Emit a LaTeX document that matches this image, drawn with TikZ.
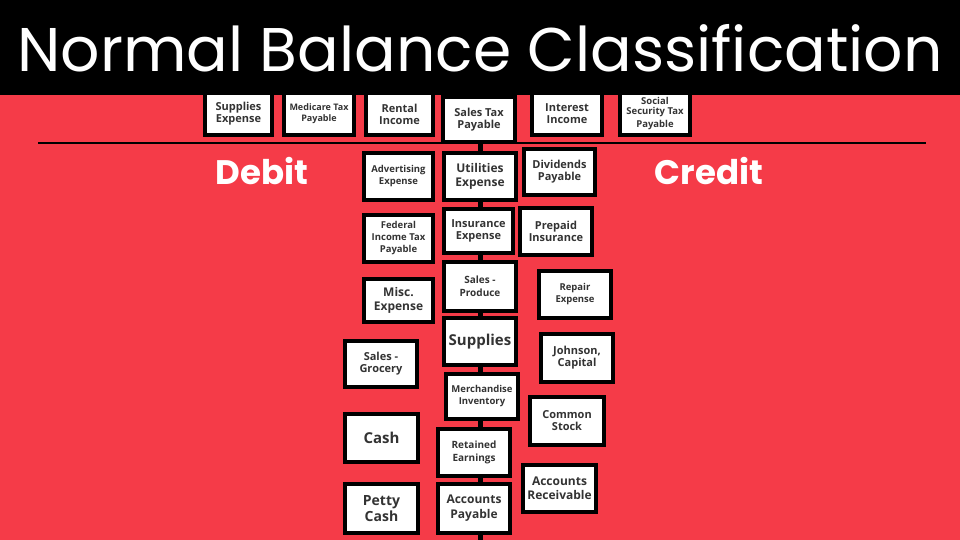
\documentclass[tikz,border=0pt]{standalone}
\usepackage{fontspec}
\usepackage{graphicx}
\setmainfont{Open Sans}
\newfontfamily\titlefont{Poppins}
\definecolor{bgred}{HTML}{F53B48}
\begin{document}
\begin{tikzpicture}[x=1pt,y=-1pt,
  acct/.style={draw=black,line width=3.5pt,fill=white,font=\bfseries\fontsize{11}{12}\selectfont,align=center,inner sep=0pt,text=black!80},
  spine/.style={line width=5pt,black}]
\useasboundingbox (0,0) rectangle (960,540);
\fill[bgred] (0,0) rectangle (960,540);
\fill[black] (0,0) rectangle (960,95);
\node[text=white,font=\titlefont] (title) at (480,48) {\resizebox{925pt}{!}{Normal Balance Classification}};
\coordinate (hl) at (38,143); \coordinate (hr) at (926,143);
\draw[line width=2pt] (hl) -- (hr);
\node[text=white,font=\titlefont\bfseries\fontsize{34}{36}\selectfont] (deb) at (262,171) {Debit};
\node[text=white,font=\titlefont\bfseries\fontsize{34}{36}\selectfont] (cred) at (709,171) {Credit};
\coordinate (stop) at (480,142); \coordinate (sbot) at (480,540);
\draw[spine] (stop) -- (sbot);
\newcommand{\acc}[6][]{\node[acct,minimum width={#4-#2},minimum height={#5-#3},#1] (n#2#3) at ({(#2+#4)/2},{(#3+#5)/2}) {#6};}
\acc{205}{93}{272}{135}{Supplies\\Expense}
\acc[font=\bfseries\fontsize{9}{11}\selectfont]{284}{93}{354}{135}{Medicare Tax\\Payable}
\acc{366}{93}{433}{135}{Rental\\Income}
\acc{443}{97}{515}{142}{Sales Tax\\Payable}
\acc{532}{93}{602}{135}{Interest\\Income}
\acc[font=\bfseries\fontsize{9.5}{11}\selectfont]{620}{93}{690}{135}{\raisebox{4pt}{\shortstack{Social\\Security Tax\\Payable}}}
\acc[font=\bfseries\fontsize{9.5}{12}\selectfont]{364}{153}{433}{200}{Advertising\\Expense}
\acc[font=\bfseries\fontsize{12}{14}\selectfont]{444}{153}{516}{200}{Utilities\\Expense}
\acc{524}{149}{595}{195}{Dividends\\Payable}
\acc[font=\bfseries\fontsize{9.5}{12}\selectfont]{364}{215}{433}{262}{Federal\\Income Tax\\Payable}
\acc{444}{209}{513}{253}{Insurance\\Expense}
\acc{520}{208}{592}{255}{Prepaid\\Insurance}
\acc[font=\bfseries\fontsize{10}{13}\selectfont]{444}{262}{516}{311}{Sales -\\Produce}
\acc[font=\bfseries\fontsize{12}{14}\selectfont]{364}{279}{433}{322}{Misc.\\Expense}
\acc[font=\bfseries\fontsize{9.5}{12}\selectfont]{539}{271}{611}{318}{Repair\\Expense}
\acc[font=\bfseries\fontsize{15}{16}\selectfont]{444}{318}{516}{365}{Supplies}
\acc{345}{341}{417}{387}{Sales -\\Grocery}
\acc{541}{334}{613}{382}{Johnson,\\Capital}
\acc[font=\bfseries\fontsize{9.5}{12}\selectfont]{446}{374}{518}{419}{Merchandise\\Inventory}
\acc{530}{397}{604}{445}{Common\\Stock}
\acc[font=\bfseries\fontsize{15}{16}\selectfont]{345}{414}{418}{462}{Cash}
\acc[font=\bfseries\fontsize{10}{13}\selectfont]{438}{429}{510}{476}{Retained\\Earnings}
\acc[font=\bfseries\fontsize{12}{14}\selectfont]{523}{465}{596}{512}{Accounts\\Receivable}
\acc[font=\bfseries\fontsize{14}{16}\selectfont]{345}{484}{418}{533}{Petty\\Cash}
\acc[font=\bfseries\fontsize{12}{15}\selectfont]{438}{484}{510}{533}{Accounts\\Payable}
\end{tikzpicture}
\end{document}
